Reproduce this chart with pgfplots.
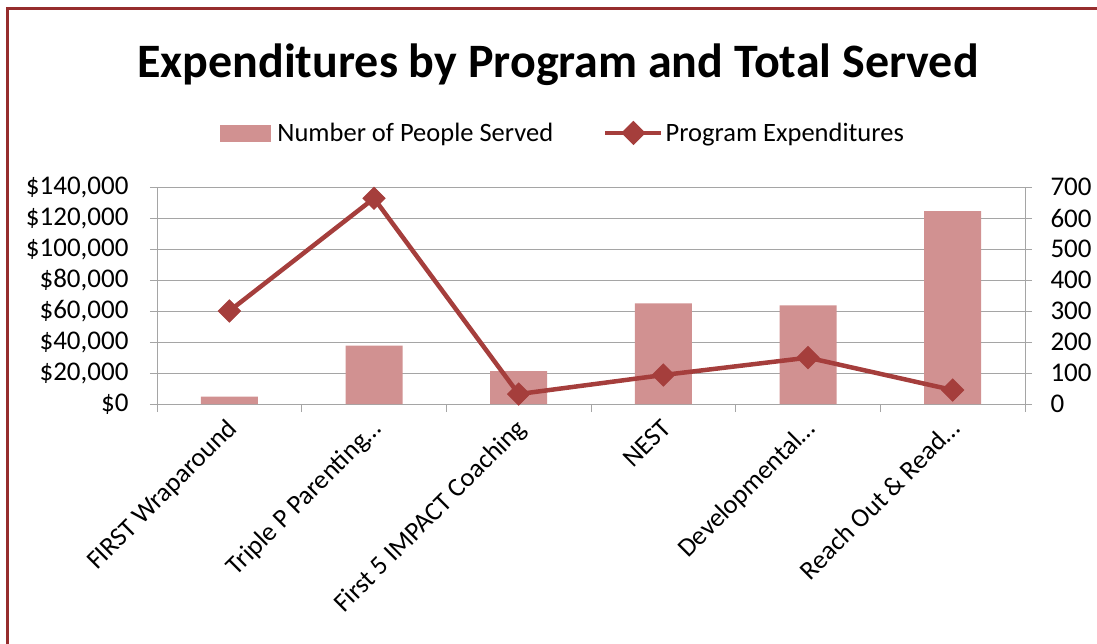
\documentclass[border=0pt]{standalone}
\usepackage{pgfplots}
\pgfplotsset{compat=1.18}
\usepackage{fontspec}
\setmainfont{Carlito}
\definecolor{barc}{RGB}{209,145,145}
\definecolor{linec}{RGB}{165,62,60}
\definecolor{framec}{RGB}{150,45,45}
\definecolor{gridc}{RGB}{165,165,165}
\begin{document}
\begin{tikzpicture}[x=1pt,y=1pt]
\path[use as bounding box] (0,0) rectangle (1097,-644);
\fill[framec] (6,-644) rectangle (9,-7.5);
\fill[framec] (6,-7.5) rectangle (1097,-10.5);
\node[font=\bfseries\fontsize{48}{54}\selectfont, anchor=base, inner sep=0] at (558,-78) {Expenditures by Program and Total Served};
% bars: right axis
\begin{axis}[
  at={(157pt,-404pt)}, anchor=south west,
  scale only axis, width=868pt, height=217pt,
  xmin=-0.5, xmax=5.5, ymin=0, ymax=700,
  axis y line*=right, axis x line*=bottom,
  axis line style={-, draw=gridc, line width=1pt},
  tick style={gridc, line width=1pt},
  tick align=outside,
  major tick length=7pt, minor tick length=8pt,
  ytick={0,100,...,700},
  yticklabels={0,100,200,300,400,500,600,700},
  yticklabel style={font=\fontsize{27}{30}\selectfont, xshift=15pt},
  ymajorgrids, grid style={gridc, line width=1pt},
  xtick={0,...,5},
  major x tick style={draw=none},
  minor xtick={-0.5,0.5,...,5.5},
  xticklabels={FIRST Wraparound, Triple P Parenting\ldots, First 5 IMPACT Coaching, NEST, Developmental\ldots, Reach Out \& Read\ldots},
  xticklabel style={font=\fontsize{26.5}{30}\selectfont, inner sep=0pt, xshift=9pt, yshift=-19pt, rotate=45, anchor=base east},
  clip=false,
]
\addplot[ybar, bar width=57pt, fill=barc, draw=none] coordinates {
(0,24) (1,188) (2,106) (3,325) (4,318) (5,622)};
\end{axis}
% line: left axis
\begin{axis}[
  at={(157pt,-404pt)}, anchor=south west,
  scale only axis, width=868pt, height=217pt,
  xmin=-0.5, xmax=5.5, ymin=0, ymax=140000,
  axis y line*=left, axis x line=none,
  axis line style={-, draw=gridc, line width=1pt},
  tick style={gridc, line width=1pt},
  tick align=outside,
  major tick length=7pt,
  scaled y ticks=false,
  ytick={0,20000,...,140000},
  yticklabels={{\$0},{\$20,000},{\$40,000},{\$60,000},{\$80,000},{\$100,000},{\$120,000},{\$140,000}},
  yticklabel style={font=\fontsize{27}{30}\selectfont, xshift=-18pt, anchor=east},
  clip=false,
  legend style={at={(0.4677,1.249)}, anchor=center, draw=none, fill=none,
    font=\fontsize{26.5}{30}\selectfont, inner sep=0pt,
    /tikz/every even column/.append style={column sep=48pt}},
  legend columns=2, legend cell align=left,
]
\addlegendimage{legend image code/.code={\fill[barc] (0pt,-8pt) rectangle (50pt,8pt); \path (55pt,0pt);}}
\addlegendentry{Number of People Served}
\addplot[linec, line width=4.5pt, mark=square*, mark size=8pt,
  mark options={rotate=45, solid, fill=linec, draw=linec, line width=0.5pt},
  legend image code/.code={\draw[linec,line width=4.5pt] (0pt,0pt) -- (56pt,0pt);
    \fill[linec] (28pt,9pt) -- (37pt,0pt) -- (28pt,-9pt) -- (19pt,0pt) -- cycle;}]
 coordinates {(0,60000) (1,132700) (2,6400) (3,18700) (4,29900) (5,9000)};
\addlegendentry{Program Expenditures}
\end{axis}
\end{tikzpicture}
\end{document}
